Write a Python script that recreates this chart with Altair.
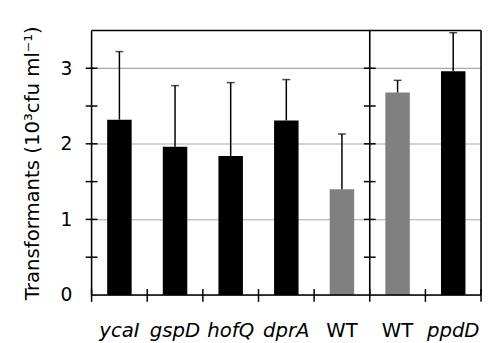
import altair as alt
import pandas as pd

categories = ["c1", "c2", "c3", "c4", "c5", "c6", "c7"]
labels = ["ycaI", "gspD", "hofQ", "dprA", "WT", "WT", "ppdD"]
means = [2.32, 1.96, 1.84, 2.31, 1.40, 2.68, 2.96]
sds = [0.90, 0.81, 0.97, 0.54, 0.73, 0.16, 0.51]
bar_colors = ["#000000", "#000000", "#000000", "#000000", "#808080", "#808080", "#000000"]
y_tick_values = [0.5, 1.0, 1.5, 2.0, 2.5, 3.0]
y_label_values = [0, 1, 2, 3]
y_max = 3.5

FONT = "DejaVu Sans"

df = pd.DataFrame({
    "cat": categories,
    "mean": means,
    "top": [m + s for m, s in zip(means, sds)],
    "color": bar_colors,
})

label_map = "{" + ",".join(f"'{c}':'{l}'" for c, l in zip(categories, labels)) + "}"

x_axis = alt.Axis(
    title=None, labelAngle=0, labelExpr=f"{label_map}[datum.value]",
    labelFontStyle={"condition": {"test": "datum.value=='c5' || datum.value=='c6'", "value": "normal"}, "value": "italic"},
    ticks=False, domain=False, labelPadding=26, labelFontSize=20, labelFont=FONT, labelColor="#000000",
)
y_axis = alt.Axis(
    values=y_label_values, grid=True, gridColor="#a8a8a8", gridWidth=1.2, ticks=False, tickSize=0,
    domain=False, labelPadding=20, labelFontSize=19, labelFont=FONT, labelColor="#000000", format="d",
    title="Transformants (10³cfu ml⁻¹)", titleFontSize=20, titleFont=FONT, titleFontWeight="normal",
    titleColor="#000000", titlePadding=18,
)
x_scale = alt.Scale(domain=categories, paddingInner=0, paddingOuter=0)
y_scale = alt.Scale(domain=[0, y_max], nice=False)


def X(bp=None):
    kw = {}
    if bp is not None:
        kw["bandPosition"] = bp
    return alt.X("cat:N", sort=categories, scale=x_scale, axis=x_axis, **kw)


def Y(field):
    return alt.Y(f"{field}:Q", scale=y_scale, axis=y_axis)


base = alt.Chart(df)

bars = base.mark_bar(width=alt.RelativeBandSize(0.44)).encode(
    x=X(), y=Y("mean"), color=alt.Color("color:N", scale=None)
)
err = base.mark_rule(color="black", strokeWidth=1.5).encode(
    x=X(), y=Y("mean"), y2="top:Q"
)
caps = base.mark_tick(color="black", thickness=1.5, size=8, orient="horizontal").encode(
    x=X(), y=Y("top")
)

ytick_df = pd.DataFrame({
    "cat": ["c1"] * len(y_tick_values) + ["c6"] * len(y_tick_values),
    "mean": y_tick_values * 2,
})
yticks = alt.Chart(ytick_df).mark_rule(color="black", strokeWidth=1.5, xOffset=-6, x2Offset=6).encode(
    x=X(0), x2=alt.X2("cat", bandPosition=0), y=Y("mean")
)

# frame + divider
vlines_start = alt.Chart(pd.DataFrame({"cat": ["c1", "c6"]})).mark_rule(color="black", strokeWidth=1.6).encode(
    x=X(0)
)
vline_end = alt.Chart(pd.DataFrame({"cat": ["c7"]})).mark_rule(color="black", strokeWidth=1.6).encode(
    x=X(1)
)
hlines = alt.Chart(pd.DataFrame({"mean": [0, y_max]})).mark_rule(color="black", strokeWidth=1.6).encode(
    y=Y("mean")
)

xtick_df = pd.DataFrame({"cat": categories, "mean": [0] * len(categories)})
xticks = alt.Chart(xtick_df).mark_rule(color="black", strokeWidth=1.5, yOffset=-6, y2Offset=7).encode(
    x=X(0), y=Y("mean"), y2=alt.Y2("mean")
)
xtick_end = alt.Chart(pd.DataFrame({"cat": ["c7"], "mean": [0]})).mark_rule(
    color="black", strokeWidth=1.5, yOffset=-6, y2Offset=7).encode(
    x=X(1), y=Y("mean"), y2=alt.Y2("mean")
)

chart = alt.layer(bars, err, caps, yticks, vlines_start, vline_end, hlines, xticks, xtick_end).properties(
    width=396, height=269,
    background="white",
    autosize=alt.AutoSizeParams(type="none"),
    padding={"left": 85, "top": 20, "right": 2, "bottom": 46},
).configure_view(stroke=None)

chart.save("out.html", embed_options={"renderer": "svg", "actions": False})
